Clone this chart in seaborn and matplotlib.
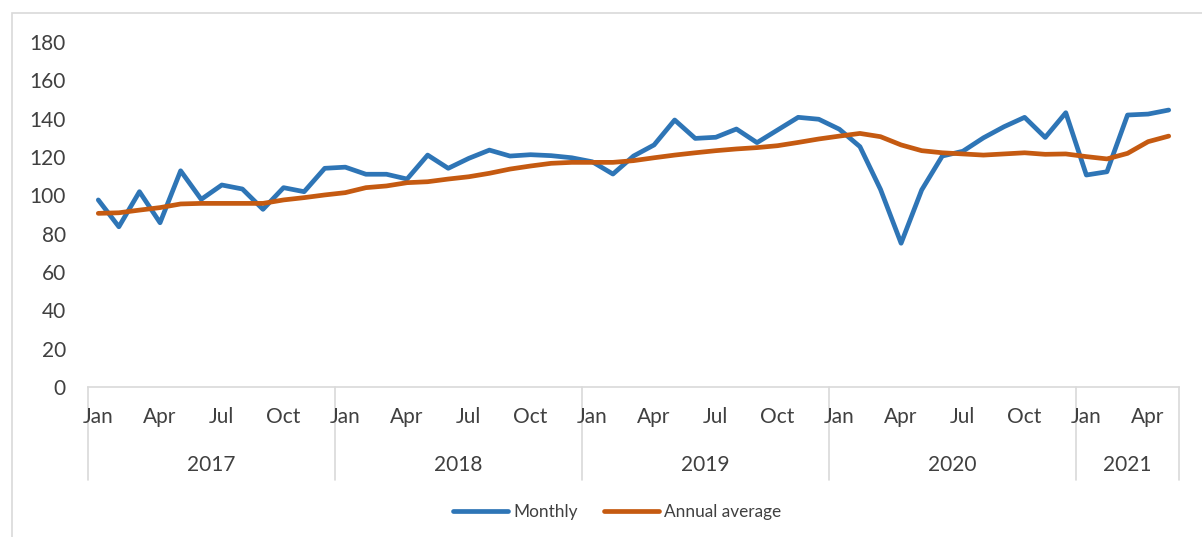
import pandas as pd
import numpy as np
import seaborn as sns
import matplotlib.pyplot as plt
from matplotlib.patches import Rectangle
from matplotlib.transforms import blended_transform_factory

sns.set_theme(style="white")
plt.rcParams['font.family'] = ['Lato', 'DejaVu Sans']

# --- data ---
years = ["2017", "2018", "2019", "2020", "2021"]
months_per_year = [12, 12, 12, 12, 5]
month_labels = ["Jan", "Apr", "Jul", "Oct"]

monthly = [
    97.6, 83.6, 101.9, 85.7, 112.8, 97.9, 105.4, 103.3, 92.7, 104.0, 101.9, 114.1,
    114.7, 111.0, 111.0, 108.5, 121.0, 114.1, 119.3, 123.6, 120.5, 121.2, 120.7, 119.6,
    117.5, 111.1, 120.5, 126.3, 139.3, 129.7, 130.3, 134.6, 127.5, 134.1, 140.7, 139.7,
    134.5, 125.4, 103.1, 75.0, 102.8, 120.5, 123.0, 130.0, 135.8, 140.7, 130.2, 143.1,
    110.6, 112.3, 141.9, 142.4, 144.5,
]
annual_avg = [
    90.6, 90.9, 92.3, 93.6, 95.5, 95.8, 95.8, 95.8, 95.8, 97.6, 98.8, 100.2,
    101.4, 104.0, 104.9, 106.6, 107.1, 108.5, 109.7, 111.5, 113.7, 115.3, 116.7, 117.2,
    117.2, 117.2, 118.1, 119.6, 121.0, 122.2, 123.3, 124.2, 124.9, 125.9, 127.6, 129.4,
    130.9, 132.3, 130.6, 126.3, 123.3, 122.2, 121.6, 121.0, 121.6, 122.2, 121.4, 121.6,
    120.2, 119.0, 121.9, 128.0, 130.9,
]

n = len(monthly)
idx = np.arange(n)
df = pd.concat([
    pd.DataFrame({"idx": idx, "value": monthly, "Series": "Monthly"}),
    pd.DataFrame({"idx": idx, "value": annual_avg, "Series": "Annual average"}),
])

text_color = "#404040"
axis_color = "#D9D9D9"

fig = plt.figure(figsize=(12.02, 5.37), dpi=100)
ax = fig.add_axes([88 / 1202, 1 - 387 / 537, (1179 - 88) / 1202, (387 - 42) / 537])

sns.lineplot(
    data=df, x="idx", y="value", hue="Series",
    palette={"Monthly": "#2E75B6", "Annual average": "#C55A11"},
    linewidth=3.4, ax=ax, legend=False,
    solid_capstyle="round", solid_joinstyle="round",
)

ax.set_xlim(-0.5, n - 0.5)
ax.set_ylim(0, 180)
ax.set_yticks(range(0, 181, 20))
ax.tick_params(axis="y", length=0, pad=16, labelsize=15, labelcolor=text_color)
ax.set_xticks([])
ax.set_xlabel("")
ax.set_ylabel("")
for s in ["top", "right", "left"]:
    ax.spines[s].set_visible(False)
ax.spines["bottom"].set_color(axis_color)
ax.spines["bottom"].set_linewidth(1.2)

# two-level category axis: months and years
trans = blended_transform_factory(ax.transData, ax.transAxes)
px = 1 / (387 - 42)  # one pixel in axes height units
start = 0
bounds = [-0.5]
for yr, cnt in zip(years, months_per_year):
    for k, lab in enumerate(month_labels):
        m = 3 * k
        if m < cnt:
            ax.text(start + m, -30 * px, lab, transform=trans, ha="center", va="center",
                    fontsize=15, color=text_color)
    ax.text(start + (cnt - 1) / 2, -78 * px, yr, transform=trans, ha="center", va="center",
            fontsize=15, color=text_color)
    start += cnt
    bounds.append(start - 0.5)
for b in bounds:
    ax.plot([b, b], [0, -93 * px], transform=trans, color=axis_color, lw=1.2, clip_on=False)

# legend
handles = [plt.Line2D([], [], color="#2E75B6", lw=3.4, solid_capstyle="round"),
           plt.Line2D([], [], color="#C55A11", lw=3.4, solid_capstyle="round")]
leg = fig.legend(handles, ["Monthly", "Annual average"], loc="center",
                 bbox_to_anchor=(617 / 1202, 1 - 512 / 537), ncol=2, frameon=False,
                 fontsize=12.4, handlelength=3.2, handletextpad=0.3, columnspacing=1.5)
for t in leg.get_texts():
    t.set_color(text_color)

# chart area border
fig.patches.append(Rectangle((12 / 1202, -0.1), 1.1, 1 - 13 / 537 + 0.1,
                             transform=fig.transFigure, fill=False,
                             edgecolor=axis_color, lw=1.2))

fig.savefig("out.png", dpi=100)
